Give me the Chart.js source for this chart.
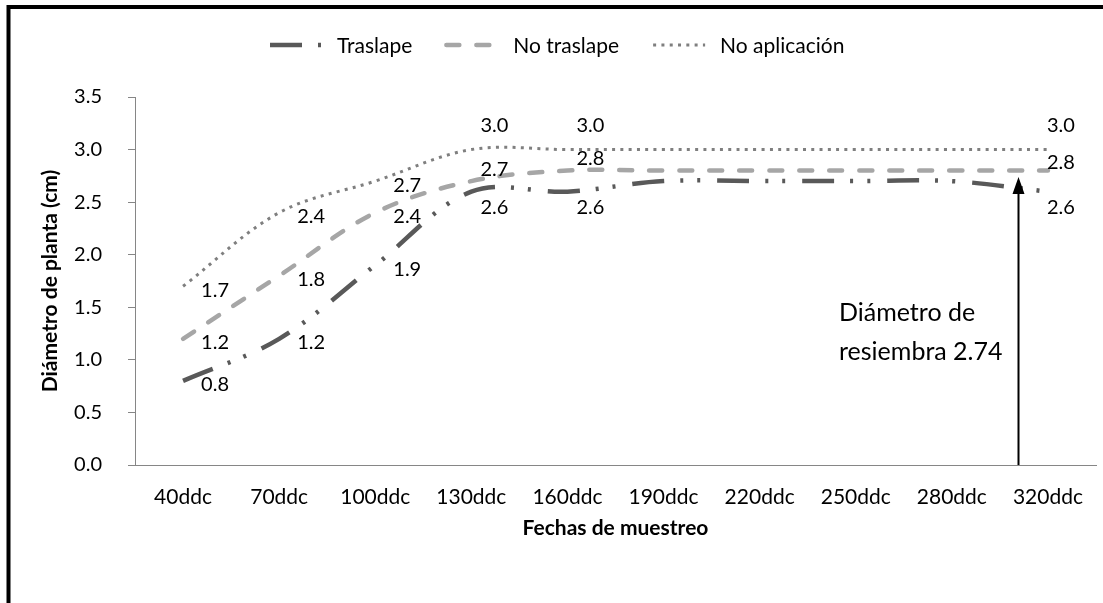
<!DOCTYPE html>
<html lang="es">
<head>
<meta charset="utf-8">
<title>Diámetro de planta</title>
<script src="https://cdn.jsdelivr.net/npm/chart.js@4.4.1/dist/chart.umd.min.js"></script>
<style>
  html, body { margin: 0; padding: 0; background: #ffffff; }
  canvas { display: block; }
</style>
</head>
<body>
<canvas id="chart" width="1103" height="603"></canvas>
<script>
// Sampling dates (days after planting)
const CATEGORIES = ['40ddc', '70ddc', '100ddc', '130ddc', '160ddc', '190ddc', '220ddc', '250ddc', '280ddc', '320ddc'];

// Plant diameter (cm) per treatment
const TRASLAPE      = [0.8, 1.2, 1.9, 2.6, 2.6, 2.7, 2.7, 2.7, 2.7, 2.6];
const NO_TRASLAPE   = [1.2, 1.8, 2.4, 2.7, 2.8, 2.8, 2.8, 2.8, 2.8, 2.8];
const NO_APLICACION = [1.7, 2.4, 2.7, 3.0, 3.0, 3.0, 3.0, 3.0, 3.0, 3.0];

const SERIES_NAMES = ['Traslape', 'No traslape', 'No aplicación'];

// Y axis ticks
const Y_TICKS = [0, 0.5, 1.0, 1.5, 2.0, 2.5, 3.0, 3.5];

// Dates whose values carry a label
const LABELED_POINTS = [0, 1, 2, 3, 4, 9];

// Replanting diameter marked with the arrow
const RESIEMBRA = 2.74;
const RESIEMBRA_TEXT = ['Diámetro de', 'resiembra 2.74'];

const FONT = 'Lato, "Open Sans", sans-serif';

// Label placement relative to each point: [dx, dy] per series, by date
function labelOffset(seriesIdx, pointIdx) {
  if (pointIdx <= 2) return [32, 4];
  if (pointIdx === 9) return [13, [16, -8, -24][seriesIdx]];
  return [23, [16, -12, -24][seriesIdx]];
}

// White background and the black outer frame
const framePlugin = {
  id: 'frame',
  beforeDraw(chart) {
    const ctx = chart.ctx;
    ctx.save();
    ctx.fillStyle = '#ffffff';
    ctx.fillRect(0, 0, chart.width, chart.height);
    ctx.strokeStyle = '#000000';
    ctx.lineWidth = 4;
    ctx.strokeRect(8.5, 7, chart.width + 20, chart.height + 20);
    ctx.restore();
  }
};

// Legend row across the top
const legendPlugin = {
  id: 'lineLegend',
  afterDraw(chart) {
    const ctx = chart.ctx;
    const y = 45;
    const symbolW = 52, textGap = 15, itemGap = 34;
    let x = 270;
    ctx.save();
    ctx.font = '21px ' + FONT;
    ctx.textBaseline = 'middle';
    ctx.textAlign = 'left';
    chart.data.datasets.forEach(ds => {
      ctx.save();
      ctx.strokeStyle = ds.borderColor;
      ctx.lineWidth = ds.borderWidth;
      ctx.lineCap = ds.borderCapStyle || 'butt';
      ctx.setLineDash(ds.borderDash || []);
      ctx.beginPath();
      ctx.moveTo(x, y);
      ctx.lineTo(x + symbolW, y);
      ctx.stroke();
      ctx.restore();
      x += symbolW + textGap;
      ctx.fillStyle = '#000000';
      ctx.fillText(ds.label, x, y + 1);
      x += ctx.measureText(ds.label).width + itemGap;
    });
    ctx.restore();
  }
};

// Value labels next to the points
const valueLabelPlugin = {
  id: 'valueLabels',
  afterDatasetsDraw(chart) {
    const ctx = chart.ctx;
    ctx.save();
    ctx.font = '20px ' + FONT;
    ctx.fillStyle = '#000000';
    ctx.textAlign = 'center';
    ctx.textBaseline = 'middle';
    chart.data.datasets.forEach((ds, si) => {
      const meta = chart.getDatasetMeta(si);
      LABELED_POINTS.forEach(pi => {
        const el = meta.data[pi];
        const [dx, dy] = labelOffset(si, pi);
        ctx.fillText(ds.data[pi].toFixed(1), el.x + dx, el.y + dy);
      });
    });
    ctx.restore();
  }
};

// Arrow marking the replanting diameter, with its caption
const resiembraPlugin = {
  id: 'resiembra',
  afterDatasetsDraw(chart) {
    const {ctx, scales: {x, y}} = chart;
    const x8 = x.getPixelForValue(8), x9 = x.getPixelForValue(9);
    const ax = Math.round(x8 + 0.69 * (x9 - x8)) + 0.5;
    const yTip = y.getPixelForValue(RESIEMBRA);
    const yBase = y.getPixelForValue(0);
    ctx.save();
    ctx.strokeStyle = '#000000';
    ctx.fillStyle = '#000000';
    ctx.lineWidth = 2;
    ctx.beginPath();
    ctx.moveTo(ax, yBase);
    ctx.lineTo(ax, yTip + 14);
    ctx.stroke();
    ctx.beginPath();
    ctx.moveTo(ax, yTip);
    ctx.lineTo(ax - 6, yTip + 17);
    ctx.lineTo(ax + 6, yTip + 17);
    ctx.closePath();
    ctx.fill();
    ctx.font = '25px ' + FONT;
    ctx.textAlign = 'left';
    ctx.textBaseline = 'middle';
    ctx.fillText(RESIEMBRA_TEXT[0], 839, 313);
    ctx.fillText(RESIEMBRA_TEXT[1], 839, 352);
    ctx.restore();
  }
};

const AXIS_GRAY = '#868686';

new Chart(document.getElementById('chart'), {
  type: 'line',
  data: {
    labels: CATEGORIES,
    datasets: [
      {
        label: SERIES_NAMES[0],
        data: TRASLAPE,
        borderColor: '#595959',
        borderWidth: 4.5,
        borderDash: [32, 16, 3, 14, 3, 17],
        borderCapStyle: 'butt'
      },
      {
        label: SERIES_NAMES[1],
        data: NO_TRASLAPE,
        borderColor: '#a6a6a6',
        borderWidth: 4.5,
        borderDash: [13, 17],
        borderCapStyle: 'round'
      },
      {
        label: SERIES_NAMES[2],
        data: NO_APLICACION,
        borderColor: '#7f7f7f',
        borderWidth: 3,
        borderDash: [3, 5.3],
        borderCapStyle: 'butt'
      }
    ]
  },
  options: {
    responsive: false,
    animation: false,
    devicePixelRatio: 1,
    layout: { padding: { top: 97, right: 0, bottom: 0, left: 0 } },
    elements: {
      line: { tension: 0.35, fill: false },
      point: { radius: 0, hoverRadius: 0 }
    },
    plugins: {
      legend: { display: false },
      tooltip: { enabled: false }
    },
    scales: {
      x: {
        offset: true,
        grid: { display: false, drawTicks: false },
        border: { display: true, color: AXIS_GRAY, width: 1 },
        ticks: {
          color: '#000000',
          font: { family: FONT, size: 21 },
          padding: 20,
          maxRotation: 0,
          autoSkip: false
        },
        title: {
          display: true,
          text: 'Fechas de muestreo',
          color: '#000000',
          font: { family: FONT, size: 21, weight: 'bold' },
          padding: { top: 0, bottom: 62 }
        },
        afterFit(scale) { scale.height = 138; }
      },
      y: {
        min: 0,
        max: 3.5,
        afterBuildTicks(scale) { scale.ticks = Y_TICKS.map(v => ({ value: v })); },
        grid: { drawOnChartArea: false, drawTicks: true, tickLength: 7, color: AXIS_GRAY },
        border: { display: true, color: AXIS_GRAY, width: 1 },
        ticks: {
          color: '#000000',
          font: { family: FONT, size: 20 },
          padding: 26,
          callback: v => Number(v).toFixed(1)
        },
        title: {
          display: true,
          text: 'Diámetro de planta (cm)',
          color: '#000000',
          font: { family: FONT, size: 21, weight: 'bold' },
          padding: { top: 38, bottom: 0 }
        },
        afterFit(scale) { scale.width = 135; }
      }
    }
  },
  plugins: [framePlugin, legendPlugin, valueLabelPlugin, resiembraPlugin]
});
</script>
</body>
</html>
